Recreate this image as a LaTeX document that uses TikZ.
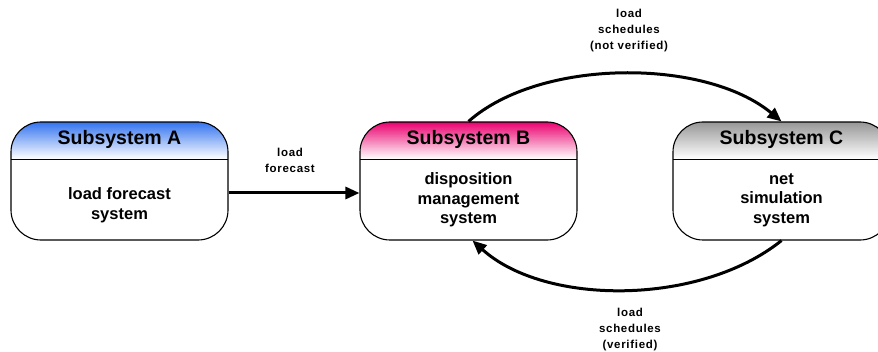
\documentclass[tikz,border=0pt]{standalone}
\usepackage{fontspec}
\setmainfont{Liberation Sans}
\newfontfamily\lblfont[LetterSpace=6]{Liberation Sans}
\usetikzlibrary{arrows.meta}
\definecolor{hdrA}{RGB}{50,115,240}
\definecolor{hdrB}{RGB}{235,0,110}
\definecolor{hdrC}{RGB}{150,150,150}
\tikzset{
  sysbox/.style={draw=black, line width=1.1pt, rounded corners=30pt,
    minimum width=217pt, minimum height=118pt, inner sep=0pt,
    path picture={
      \foreach \k in {0,...,36} {
        \pgfmathtruncatemacro\pc{100*(1-\k/37)}
        \fill[sharp corners, #1!\pc!white]
          ([yshift={-\k*1pt}]path picture bounding box.north west) rectangle
          ([yshift={-(\k+1.3)*1pt}]path picture bounding box.north east);
      }
      \draw[sharp corners, line width=0.9pt]
        ([yshift=-37pt]path picture bounding box.north west) --
        ([yshift=-37pt]path picture bounding box.north east);
    }},
  titletext/.style={font=\bfseries\fontsize{19.5}{22}\selectfont, inner sep=0pt},
  bodytext/.style={font=\bfseries\fontsize{16.5}{19.5}\selectfont, align=center, inner sep=0pt},
  lbltext/.style={font=\lblfont\bfseries\fontsize{11.5}{16}\selectfont, align=center, inner sep=0pt},
  flow/.style={line width=3pt, -{Triangle[length=14pt,width=12pt]}},
}
\begin{document}
\begin{tikzpicture}[x=1pt,y=1pt]
\useasboundingbox (0,0) rectangle (878,351);
\clip (0,0) rectangle (878,351);
\fill[white] (0,0) rectangle (878,351);

\node[sysbox=hdrA] (boxA) at (119.5,170) {};
\node[sysbox=hdrB] (boxB) at (468.5,170) {};
\node[sysbox=hdrC] (boxC) at (781.5,170) {};

\node[titletext] (tA) at (119.5,212) {Subsystem A};
\node[titletext] (tB) at (468.5,212) {Subsystem B};
\node[titletext] (tC) at (781.5,212) {Subsystem C};

\node[bodytext] (bA) at (119.5,146) {load forecast\\system};
\node[bodytext] (bB) at (468.5,151) {disposition\\management\\system};
\node[bodytext] (bC) at (781.5,151) {net\\simulation\\system};

\draw[flow] ([yshift=-12pt]boxA.east) -- ([yshift=-12pt]boxB.west);
\draw[flow] (boxB.north) .. controls (540,293) and (705,293) .. (boxC.north);
\draw[flow] (boxC.south) .. controls (700,45) and (545,45) .. ([xshift=4pt]boxB.south);

\node[lbltext] (l1) at (290,191) {load\\forecast};
\node[lbltext] (l2) at (629,320) {load\\schedules\\(not verified)};
\node[lbltext] (l3) at (630,21) {load\\schedules\\(verified)};
\end{tikzpicture}
\end{document}
